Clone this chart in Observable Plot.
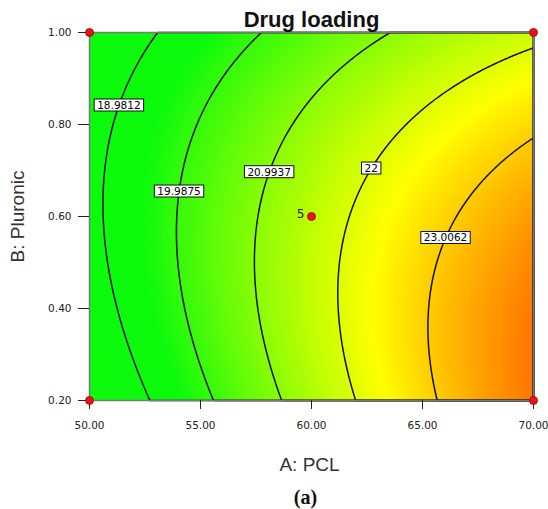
<!DOCTYPE html>
<html>
<head>
<meta charset="utf-8">
<script src="https://cdn.jsdelivr.net/npm/d3@7"></script>
<script src="https://cdn.jsdelivr.net/npm/@observablehq/plot@0.6"></script>
<style>
  body { margin: 0; background: #fff; }
  #chart svg { display: block; }
</style>
</head>
<body>
<div id="chart"></div>
<script>
// Quadratic response-surface model for drug loading, in coded factors
// a = (PCL - 60) / 10, b = (Pluronic - 0.6) / 0.4
const termNames = ["Intercept", "A", "B", "AB", "A^2", "B^2"];
const coefficients = [21.60, 2.415, -0.50, -0.63, -0.40, -0.69];

// Contour levels and their printed labels
const contourLevels = [18.9812, 19.9875, 20.9937, 22, 23.0062];
const contourLabels = ["18.9812", "19.9875", "20.9937", "22", "23.0062"];
// Pluronic level at which each contour label sits
const labelPluronic = [0.841, 0.654, 0.696, 0.704, 0.553];

// Design points (factorial corners + replicated centre point)
const designPCL = [50, 50, 70, 70, 60];
const designPluronic = [0.2, 1.0, 0.2, 1.0, 0.6];
const designRuns = [1, 1, 1, 1, 5];

// Axis ticks
const xTicks = [50, 55, 60, 65, 70];
const yTicks = [0.2, 0.4, 0.6, 0.8, 1.0];

function loading(A, B) {
  const a = (A - 60) / 10, b = (B - 0.6) / 0.4;
  const [c0, cA, cB, cAB, cAA, cBB] = coefficients;
  return c0 + cA * a + cB * b + cAB * a * b + cAA * a * a + cBB * b * b;
}

// PCL level where the response equals `level` at a given Pluronic level
function solvePCL(level, B) {
  let lo = 50, hi = 70;
  for (let i = 0; i < 60; i++) {
    const mid = (lo + hi) / 2;
    if (loading(mid, B) < level) lo = mid; else hi = mid;
  }
  return (lo + hi) / 2;
}

const labelRows = contourLabels.map((text, i) => ({
  text,
  pcl: solvePCL(contourLevels[i], labelPluronic[i]),
  pluronic: labelPluronic[i]
}));
const designRows = designPCL.map((pcl, i) => ({pcl, pluronic: designPluronic[i], runs: designRuns[i]}));

const tickFont = "DejaVu Sans, Verdana, sans-serif";
const plot = Plot.plot({
  width: 548,
  height: 509,
  marginLeft: 89,
  marginRight: 15,
  marginTop: 32,
  marginBottom: 109,
  style: {fontFamily: "Arial, 'Liberation Sans', sans-serif", background: "#fff"},
  x: {domain: [50, 70]},
  y: {domain: [0.2, 1]},
  color: {
    type: "linear",
    domain: [19.5, 22.4, 24.4],
    range: ["#0cfa0c", "#ffff00", "#ff5a00"],
    clamp: true,
    interpolate: "rgb"
  },
  marks: [
    Plot.raster({fill: loading, x1: 50, x2: 70, y1: 0.2, y2: 1, pixelSize: 1}),
    Plot.contour({
      value: loading, x1: 50, x2: 70, y1: 0.2, y2: 1, pixelSize: 1,
      thresholds: contourLevels, fill: "none", stroke: "#111", strokeWidth: 1.5
    }),
    Plot.frame({stroke: "#7a7a7a", strokeWidth: 1.5}),
    Plot.axisX(xTicks, {
      tickFormat: d => d.toFixed(2), tickSize: 9, tickPadding: 12,
      fontSize: 10.5, fontFamily: tickFont, color: "#222", label: null
    }),
    Plot.axisY(yTicks, {
      tickFormat: d => d.toFixed(2), tickSize: 11, tickPadding: 7,
      fontSize: 10.5, fontFamily: tickFont, color: "#222", label: null
    }),
    Plot.dot(designRows, {x: "pcl", y: "pluronic", r: 4, fill: "#e8141c", stroke: "#9a0000", strokeWidth: 0.8}),
    Plot.text(designRows.filter(d => d.runs > 1), {
      x: "pcl", y: "pluronic", text: d => String(d.runs),
      textAnchor: "end", dx: -7, dy: -2, fontSize: 12, fontFamily: tickFont, fill: "#222"
    }),
    Plot.text(labelRows, {
      x: "pcl", y: "pluronic", text: "text",
      fontSize: 10.5, fontFamily: tickFont, fill: "#000"
    }),
    Plot.text(["Drug loading"], {
      frameAnchor: "top", dy: -12.5, lineAnchor: "middle",
      fontSize: 22, fontWeight: "bold", fill: "#111"
    }),
    Plot.text(["B: Pluronic"], {
      frameAnchor: "left", dx: -72, rotate: -90, textAnchor: "middle", lineAnchor: "middle",
      fontSize: 19, fill: "#333"
    }),
    Plot.text(["A: PCL"], {
      frameAnchor: "bottom", dy: 64, dx: -2, lineAnchor: "middle",
      fontSize: 19, fill: "#333"
    }),
    Plot.text(["(a)"], {
      frameAnchor: "bottom", dy: 97, dx: -6, lineAnchor: "middle",
      fontSize: 20, fontWeight: "bold", fontFamily: "'Liberation Serif', 'Times New Roman', serif", fill: "#111"
    })
  ]
});

document.getElementById("chart").appendChild(plot);

// Boxed contour labels: white box with a thin black border behind each label
const labelSet = new Set(contourLabels);
d3.select(plot).selectAll("text")
  .filter(function () { return labelSet.has(this.textContent); })
  .each(function () {
    const bb = this.getBBox();
    const t = this.getAttribute("transform");
    const rect = document.createElementNS("http://www.w3.org/2000/svg", "rect");
    rect.setAttribute("x", bb.x - 3);
    rect.setAttribute("y", bb.y);
    rect.setAttribute("width", bb.width + 6);
    rect.setAttribute("height", bb.height);
    rect.setAttribute("fill", "#fff");
    rect.setAttribute("stroke", "#111");
    rect.setAttribute("stroke-width", "1");
    if (t) rect.setAttribute("transform", t);
    this.parentNode.insertBefore(rect, this);
  });
</script>
</body>
</html>
